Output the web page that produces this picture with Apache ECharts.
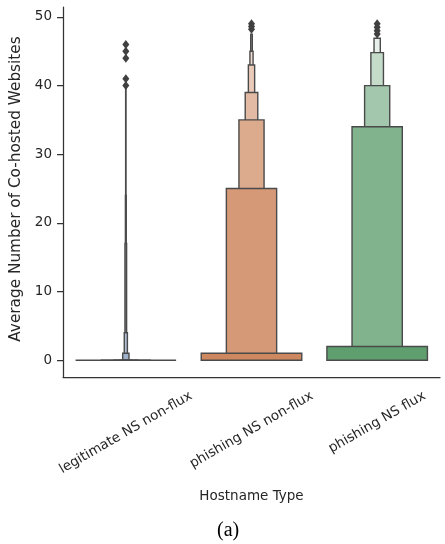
<!DOCTYPE html>
<html>
<head>
<meta charset="utf-8">
<script src="https://cdn.jsdelivr.net/npm/echarts@6/dist/echarts.min.js"></script>
<style>
html,body{margin:0;padding:0;background:#fff;}
#chart{width:445px;height:544px;}
</style>
</head>
<body>
<div id="chart"></div>
<script>
// ---- data ----
const categories = ['legitimate NS non-flux', 'phishing NS non-flux', 'phishing NS flux'];
const yTicks = [0, 10, 20, 30, 40, 50];
// letter-value box bounds, widest (quartile) box first
const legitLower = [0, 0, 0, 0, 0, 0, 0, 0, 0];
const legitUpper = [0, 0, 0, 0, 1, 4, 17, 24, 40];
const nonFluxLower = [0, 0, 0, 0, 0, 0, 0];
const nonFluxUpper = [1, 25, 35, 39, 43, 45, 47.5];
const fluxLower = [0, 0, 0, 0, 0];
const fluxUpper = [2, 34, 40, 44.8, 46.9];
// outliers
const legitOutliers = [40, 41, 44, 45, 46];
const nonFluxOutliers = [48.2, 48.6, 49];
const fluxOutliers = [47.5, 48, 48.5, 49];

// ---- styling ----
const baseColors = ['#5875a4', '#ce8860', '#5f9e6e'];
const edge = '#4a4a4a';
const textColor = '#262626';
const axisColor = '#333333';
const font = 'DejaVu Sans';

function mixWhite(hex, t) {
  const r = parseInt(hex.slice(1, 3), 16), g = parseInt(hex.slice(3, 5), 16), b = parseInt(hex.slice(5, 7), 16);
  const f = v => Math.round(v + (255 - v) * t);
  return 'rgb(' + f(r) + ',' + f(g) + ',' + f(b) + ')';
}

const boxSets = [[legitLower, legitUpper], [nonFluxLower, nonFluxUpper], [fluxLower, fluxUpper]];
const boxData = [];
boxSets.forEach(function (set, ci) {
  const n = set[1].length;
  for (let lvl = n - 1; lvl >= 0; lvl--) {
    boxData.push([ci, set[0][lvl], set[1][lvl], lvl, n]);
  }
});
const outlierData = [];
[legitOutliers, nonFluxOutliers, fluxOutliers].forEach(function (arr, ci) {
  arr.forEach(function (v) { outlierData.push([ci, v]); });
});

// per-label offsets so rotated labels sit like matplotlib's centred rotated ticks
// (local down shift = lineHeight/2 via a leading blank line; local left shift via right padding)
const labelShift = [{ lh: 17.8, padR: 10.3 }, { lh: 13.2, padR: 7.6 }, { lh: 0, padR: 0 }];
const xData = categories.map(function (c, i) {
  const s = labelShift[i];
  const ts = {
    align: 'center', verticalAlign: 'middle', padding: [0, s.padR, 0, 0],
    fontFamily: font, fontSize: 13.5, color: textColor
  };
  if (s.lh > 0) ts.lineHeight = s.lh;
  return { value: c, textStyle: ts };
});

const chart = echarts.init(document.getElementById('chart'), null, { renderer: 'canvas' });
chart.setOption({
  animation: false,
  backgroundColor: '#ffffff',
  title: {
    text: '(a)',
    left: 212, top: 516,
    textStyle: { fontFamily: 'Liberation Serif', fontSize: 20, fontWeight: 'normal', color: '#000' }
  },
  grid: { left: 63, right: 5, top: 7, bottom: 167, outerBoundsMode: 'none', containLabel: false },
  xAxis: {
    type: 'category',
    data: xData,
    boundaryGap: true,
    name: 'Hostname Type',
    nameLocation: 'middle',
    nameGap: 112,
    nameTextStyle: { fontFamily: font, fontSize: 13.5, color: textColor },
    axisLine: { onZero: false, lineStyle: { color: axisColor, width: 1.25 } },
    axisTick: { alignWithLabel: true, length: 6, lineStyle: { color: axisColor, width: 1.25 } },
    axisLabel: {
      interval: 0, rotate: 30, align: 'center', verticalAlign: 'middle', margin: 45.4,
      fontFamily: font, fontSize: 13.5, color: textColor,
      formatter: function (value, index) {
        return labelShift[index] && labelShift[index].lh > 0 ? '\n' + value : value;
      }
    },
    splitLine: { show: false }
  },
  yAxis: {
    type: 'value',
    min: -2.45, max: 51.45,
    name: 'Average Number of Co-hosted Websites',
    nameLocation: 'middle',
    nameGap: 39,
    nameTextStyle: { fontFamily: font, fontSize: 15.3, color: textColor, padding: [0, 0, 0, 6] },
    axisLine: { show: true, lineStyle: { color: axisColor, width: 1.25 } },
    axisTick: { show: true, length: 6, customValues: yTicks, lineStyle: { color: axisColor, width: 1.25 } },
    axisLabel: { customValues: yTicks, margin: 11, fontFamily: font, fontSize: 13.5, color: textColor },
    splitLine: { show: false }
  },
  series: [
    {
      type: 'custom',
      data: boxData,
      encode: { x: 0, y: [1, 2] },
      clip: false,
      renderItem: function (params, api) {
        const c = api.value(0), lo = api.value(1), hi = api.value(2), lvl = api.value(3), n = api.value(4);
        const band = api.size([1, 0])[0];
        const w = band * 0.8 * Math.pow(0.5, lvl);
        const pLo = api.coord([c, lo]);
        const pHi = api.coord([c, hi]);
        const t = n > 1 ? 0.85 * lvl / (n - 1) : 0;
        return {
          type: 'rect',
          shape: { x: pLo[0] - w / 2, y: pHi[1], width: w, height: pLo[1] - pHi[1] },
          style: { fill: mixWhite(baseColors[c], t), stroke: edge, lineWidth: 1.4 }
        };
      }
    },
    {
      type: 'scatter',
      data: outlierData,
      symbol: 'diamond',
      symbolSize: [7, 9],
      itemStyle: { color: '#404040', opacity: 1 },
      z: 5
    }
  ]
});
</script>
</body>
</html>
